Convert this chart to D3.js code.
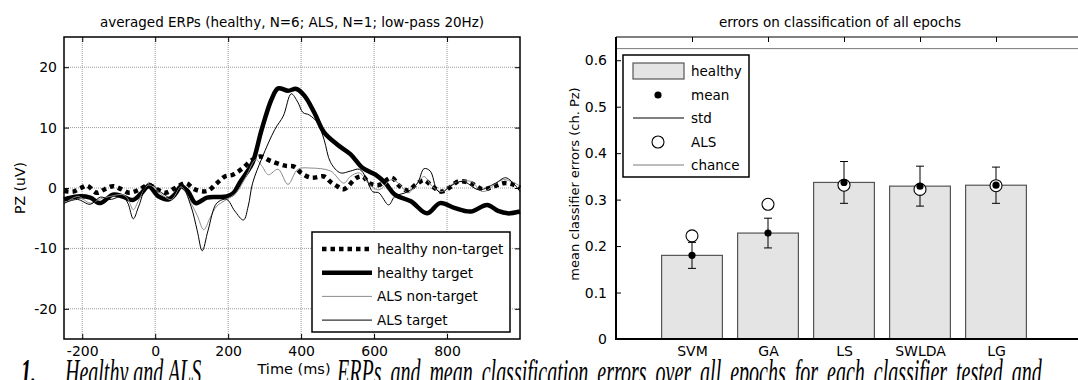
<!DOCTYPE html>
<html>
<head>
<meta charset="utf-8">
<script src="https://cdn.jsdelivr.net/npm/d3@7"></script>
<style>
	body { margin: 0; background: #fff; }
	svg { display: block; }
</style>
</head>
<body>
<svg id="fig" width="1078" height="380"></svg>
<script>
// ---- left panel: averaged ERPs at Pz (time in ms, amplitude in uV) ----
var erpTicksX = [-200, 0, 200, 400, 600, 800];
var erpTicksY = [-20, -10, 0, 10, 20];
var erpNames = ["healthy non-target", "healthy target", "ALS non-target", "ALS target"];

var hntTime = [-250, -225, -204, -187, -160, -138, -116, -93, -71, -45, -18, 5, 27, 55, 84, 107, 142, 169, 191, 213, 240, 267, 289, 316, 356, 382, 400, 427, 463, 481, 499, 517, 552, 569, 587, 613, 648, 670, 693, 715, 737, 759, 785, 810, 831, 865, 898, 930, 955, 980, 1000];
var hntVal = [-0.5, -0.6, 0, 0.4, -0.8, -0.2, 0.3, -0.2, -0.8, -0.3, 0.5, -0.2, -0.8, 0, 0.8, -0.2, -0.5, 0.8, 1.9, 2.2, 3.3, 4.7, 5.2, 4.5, 3.7, 3.5, 2.5, 1.7, 1.9, 1.0, 0.3, -0.2, 1.7, 1.9, 0.8, 0.5, 1.7, 0.3, -0.4, 0.6, 1.3, 0.3, -0.6, 0.2, 1.1, 0.8, -0.2, 0.3, 0.8, 0.6, 0];

var htTime = [-250, -213, -178, -151, -116, -89, -62, -40, -18, 9, 36, 55, 71, 90, 111, 142, 170, 196, 215, 231, 250, 267, 292, 319, 337, 364, 387, 409, 436, 463, 499, 535, 569, 604, 631, 657, 701, 745, 781, 820, 865, 910, 940, 966, 1000];
var htVal = [-1.9, -1.4, -1.6, -2.5, -1.1, -1.4, -2.0, -1.0, 0.3, -1.4, -1.9, -1.0, 0.3, -0.6, -2.5, -1.6, -1.5, -1.4, -0.8, 0.8, 2.5, 4.2, 9.7, 14.7, 16.5, 16.1, 16.4, 15.3, 12.5, 9.2, 7.2, 5.6, 3.3, 2.2, 0.8, -1.1, -2.2, -4.2, -2.5, -3.3, -3.9, -2.8, -3.8, -4.2, -3.9];

var antTime = [-250, -213, -178, -150, -124, -89, -75, -60, -45, -18, 18, 44, 71, 98, 115, 133, 150, 169, 196, 222, 249, 276, 293, 310, 337, 364, 391, 427, 481, 517, 535, 560, 587, 613, 648, 670, 693, 719, 737, 759, 785, 820, 865, 898, 955, 1000];
var antVal = [-2.7, -1.4, -2.5, -1.8, -1.4, -1.1, -1.8, -3.6, -2, 0.5, -1.1, -1.9, 0.2, -2.5, -4.5, -6.9, -5, -3, -1.9, -0.8, 1.9, 4.7, 3.6, 2.2, 3.1, 0.6, 3.1, 3.3, 2.8, 0.8, 1.9, 2.5, 0.6, -0.3, 1.4, 0.6, -0.8, 0.8, 1.9, 0.3, -0.6, 0.8, 1.1, -0.6, 1.4, 0.3];

var atTime = [-250, -213, -178, -150, -124, -89, -75, -60, -45, -18, 18, 44, 71, 98, 115, 129, 145, 169, 196, 218, 242, 255, 267, 293, 328, 351, 373, 391, 405, 422, 445, 463, 481, 508, 535, 560, 578, 596, 613, 640, 657, 693, 719, 737, 754, 772, 785, 809, 843, 888, 933, 961, 989, 1000];
var atVal = [-2.5, -1.9, -2.7, -1.5, -1.9, -1.4, -2.5, -5.1, -3, 0.8, -0.8, -1.6, 0.5, -3, -7, -10.4, -7, -2.5, -1.9, -3.8, -5.3, -3, 0.8, 5, 9.7, 11.9, 15.6, 14.2, 12.5, 12.1, 10.8, 8, 4.2, 2.5, 2.8, 3.1, 1.7, -0.6, -0.8, -2.8, -1.4, -0.6, 0.8, 3.2, 2.8, -0.3, -0.8, 0.3, 1.1, -0.3, 0.8, 1.7, 0.3, -0.6];

// ---- right panel: classification errors ----
var classifiers = ["SVM", "GA", "LS", "SWLDA", "LG"];
var meanErr = [0.180, 0.228, 0.337, 0.329, 0.331];
var stdErr = [0.028, 0.032, 0.045, 0.043, 0.039];
var alsErr = [0.222, 0.290, 0.331, 0.322, 0.330];
var chanceErr = 0.625;
var errTicksY = [0, 0.1, 0.2, 0.3, 0.4, 0.5, 0.6];
var errNames = ["healthy", "mean", "std", "ALS", "chance"];

var font = "'DejaVu Sans', Verdana, sans-serif";
var svg = d3.select("#fig");

// caption of the paper, mostly hidden below the figure
var cap = svg.append("g")
	.attr("transform", "translate(0,384) scale(1,1.8)")
	.attr("font-family", "'Liberation Serif', 'Times New Roman', serif")
	.attr("font-style", "italic")
	.attr("font-size", "20px")
	.attr("fill", "#000");
cap.append("text").attr("x", 36).attr("text-anchor", "end").attr("font-weight", "bold").text("1.");
cap.append("text").attr("x", 65).text("Healthy and ALS");
cap.append("text").attr("x", 337).attr("word-spacing", "4px")
	.text("ERPs and mean classification errors over all epochs for each classifier tested and");

function makeText(g, x, y, content, size, anchor) {
	return g.append("text")
		.attr("x", x)
		.attr("y", y)
		.attr("text-anchor", anchor || "start")
		.attr("font-family", font)
		.attr("font-size", size)
		.attr("fill", "#000")
		.text(content);
}

function styleAxis(g) {
	g.attr("font-family", font).attr("font-size", "14px");
	g.select(".domain").remove();
	g.selectAll(".tick line").attr("stroke", "#000");
	g.selectAll(".tick text").attr("fill", "#000");
}

//////////////////////////////////////////////////////////////
// left panel
var xL = d3.scaleLinear().domain([-250, 1000]).range([64, 520]);
var yL = d3.scaleLinear().domain([-25, 25]).range([339, 37]);
var left = svg.append("g");

left.append("rect")
	.attr("x", xL(-250)).attr("y", yL(25))
	.attr("width", xL(1000) - xL(-250)).attr("height", yL(-25) - yL(25))
	.attr("fill", "#fff");

left.selectAll(".gx").data(erpTicksX).enter().append("line")
	.attr("x1", function (d) { return xL(d); })
	.attr("x2", function (d) { return xL(d); })
	.attr("y1", yL(25)).attr("y2", yL(-25))
	.attr("stroke", "#9a9a9a").attr("stroke-width", 1).attr("stroke-dasharray", "1,1");
left.selectAll(".gy").data(erpTicksY).enter().append("line")
	.attr("x1", xL(-250)).attr("x2", xL(1000))
	.attr("y1", function (d) { return yL(d); })
	.attr("y2", function (d) { return yL(d); })
	.attr("stroke", "#9a9a9a").attr("stroke-width", 1).attr("stroke-dasharray", "1,1");

var labelFmt = function (d) { return String(d); };
left.append("g").attr("transform", "translate(0," + yL(-25) + ")")
	.call(d3.axisBottom(xL).tickValues(erpTicksX).tickSizeInner(-5).tickSizeOuter(0).tickPadding(7).tickFormat(labelFmt))
	.call(styleAxis);
left.append("g").attr("transform", "translate(0," + yL(25) + ")")
	.call(d3.axisTop(xL).tickValues(erpTicksX).tickSizeInner(-5).tickSizeOuter(0).tickFormat(""))
	.call(styleAxis);
left.append("g").attr("transform", "translate(" + xL(-250) + ",0)")
	.call(d3.axisLeft(yL).tickValues(erpTicksY).tickSizeInner(-5).tickSizeOuter(0).tickPadding(7).tickFormat(labelFmt))
	.call(styleAxis);
left.append("g").attr("transform", "translate(" + xL(1000) + ",0)")
	.call(d3.axisRight(yL).tickValues(erpTicksY).tickSizeInner(-5).tickSizeOuter(0).tickFormat(""))
	.call(styleAxis);

var erpSeries = [
	{ t: hntTime, v: hntVal, w: 4.5, c: "#000", dash: "4.5,4" },
	{ t: htTime, v: htVal, w: 4.5, c: "#000", dash: null },
	{ t: antTime, v: antVal, w: 1, c: "#8c8c8c", dash: null },
	{ t: atTime, v: atVal, w: 1, c: "#000", dash: null }
];

var erpLine = d3.line()
	.x(function (d) { return xL(d[0]); })
	.y(function (d) { return yL(d[1]); })
	.curve(d3.curveCatmullRom.alpha(0.5));

erpSeries.forEach(function (s) {
	left.append("path")
		.datum(d3.zip(s.t, s.v))
		.attr("d", erpLine)
		.attr("fill", "none")
		.attr("stroke", s.c)
		.attr("stroke-width", s.w)
		.attr("stroke-linejoin", "round")
		.attr("stroke-dasharray", s.dash);
});

left.append("rect")
	.attr("x", xL(-250)).attr("y", yL(25))
	.attr("width", xL(1000) - xL(-250)).attr("height", yL(-25) - yL(25))
	.attr("fill", "none").attr("stroke", "#000").attr("stroke-width", 1.5);

// legend
var legL = left.append("g").attr("transform", "translate(312,232)");
legL.append("rect").attr("width", 198).attr("height", 100)
	.attr("fill", "#fff").attr("stroke", "#000").attr("stroke-width", 1.5);
erpSeries.forEach(function (s, i) {
	var ly = 17 + i * 23.7;
	legL.append("line")
		.attr("x1", 10).attr("x2", 60).attr("y1", ly).attr("y2", ly)
		.attr("stroke", s.c).attr("stroke-width", s.w).attr("stroke-dasharray", s.dash);
	makeText(legL, 65, ly + 5, erpNames[i], "13.5px");
});

makeText(left, (xL(-250) + xL(1000)) / 2, 27, "averaged ERPs (healthy, N=6; ALS, N=1; low-pass 20Hz)", "13.5px", "middle");
makeText(left, 0, 0, "PZ (uV)", "14px", "middle")
	.attr("transform", "translate(25," + yL(0) + ") rotate(-90)");
left.append("rect").attr("x", 254).attr("y", 360).attr("width", 80).attr("height", 16).attr("fill", "#fff");
makeText(left, 294, 374, "Time (ms)", "14.5px", "middle");

//////////////////////////////////////////////////////////////
// right panel
var xR = d3.scaleLinear().domain([0, 6]).range([616, 1072]);
var yR = d3.scaleLinear().domain([0, 0.65]).range([339, 37]);
var right = svg.append("g");

right.selectAll(".bar").data(meanErr).enter().append("rect")
	.attr("x", function (d, i) { return xR(i + 1 - 0.4); })
	.attr("y", function (d) { return yR(d); })
	.attr("width", xR(0.8) - xR(0))
	.attr("height", function (d) { return yR(0) - yR(d); })
	.attr("fill", "#e4e4e4")
	.attr("stroke", "#555")
	.attr("stroke-width", 1.2);

// std bars
right.selectAll(".err").data(meanErr).enter().append("line")
	.attr("x1", function (d, i) { return xR(i + 1); })
	.attr("x2", function (d, i) { return xR(i + 1); })
	.attr("y1", function (d, i) { return yR(d - stdErr[i]); })
	.attr("y2", function (d, i) { return yR(d + stdErr[i]); })
	.attr("stroke", "#000").attr("stroke-width", 1);
[-1, 1].forEach(function (sgn) {
	right.selectAll(".cap").data(meanErr).enter().append("line")
		.attr("x1", function (d, i) { return xR(i + 1) - 4; })
		.attr("x2", function (d, i) { return xR(i + 1) + 4; })
		.attr("y1", function (d, i) { return yR(d + sgn * stdErr[i]); })
		.attr("y2", function (d, i) { return yR(d + sgn * stdErr[i]); })
		.attr("stroke", "#000").attr("stroke-width", 1);
});

right.selectAll(".als").data(alsErr).enter().append("circle")
	.attr("cx", function (d, i) { return xR(i + 1); })
	.attr("cy", function (d) { return yR(d); })
	.attr("r", 6)
	.attr("fill", "#fff")
	.attr("stroke", "#000")
	.attr("stroke-width", 1.1);
right.selectAll(".mean").data(meanErr).enter().append("circle")
	.attr("cx", function (d, i) { return xR(i + 1); })
	.attr("cy", function (d) { return yR(d); })
	.attr("r", 3.6)
	.attr("fill", "#000");

// chance level and frame
right.append("line")
	.attr("x1", xR(0)).attr("x2", 1078)
	.attr("y1", yR(chanceErr)).attr("y2", yR(chanceErr))
	.attr("stroke", "#7a7a7a").attr("stroke-width", 1);
right.append("line")
	.attr("x1", xR(0)).attr("x2", 1078)
	.attr("y1", yR(0.65)).attr("y2", yR(0.65))
	.attr("stroke", "#000").attr("stroke-width", 1.2);

right.append("g").attr("transform", "translate(" + xR(0) + ",0)")
	.call(d3.axisLeft(yR).tickValues(errTicksY).tickSizeInner(-5).tickSizeOuter(0).tickPadding(9)
		.tickFormat(function (d) { return d === 0 ? "0" : d3.format(".1f")(d); }))
	.call(styleAxis);
right.append("g").attr("transform", "translate(0," + yR(0) + ")")
	.call(d3.axisBottom(xR).tickValues([1, 2, 3, 4, 5]).tickSizeInner(0).tickSizeOuter(0).tickPadding(7)
		.tickFormat(function (d) { return classifiers[d - 1]; }))
	.call(styleAxis);
right.append("g").attr("transform", "translate(0," + yR(0.65) + ")")
	.call(d3.axisTop(xR).tickValues([1, 2, 3, 4, 5]).tickSizeInner(-5).tickSizeOuter(0).tickFormat(""))
	.call(styleAxis);

right.append("line")
	.attr("x1", xR(0)).attr("x2", xR(0)).attr("y1", yR(0.65)).attr("y2", yR(0) + 1)
	.attr("stroke", "#000").attr("stroke-width", 2);
right.append("line")
	.attr("x1", xR(0)).attr("x2", 1078).attr("y1", yR(0)).attr("y2", yR(0))
	.attr("stroke", "#000").attr("stroke-width", 2);

// legend
var legR = right.append("g").attr("transform", "translate(623,55)");
legR.append("rect").attr("width", 126).attr("height", 122)
	.attr("fill", "#fff").attr("stroke", "#000").attr("stroke-width", 1.5);
var rowY = [16, 40, 63, 87, 110];
legR.append("rect").attr("x", 10).attr("y", rowY[0] - 8).attr("width", 51).attr("height", 16)
	.attr("fill", "#e4e4e4").attr("stroke", "#555").attr("stroke-width", 1.2);
legR.append("circle").attr("cx", 35).attr("cy", rowY[1]).attr("r", 3.6).attr("fill", "#000");
legR.append("line").attr("x1", 10).attr("x2", 61).attr("y1", rowY[2]).attr("y2", rowY[2])
	.attr("stroke", "#000").attr("stroke-width", 1);
legR.append("circle").attr("cx", 35).attr("cy", rowY[3]).attr("r", 6)
	.attr("fill", "#fff").attr("stroke", "#000").attr("stroke-width", 1.1);
legR.append("line").attr("x1", 10).attr("x2", 61).attr("y1", rowY[4]).attr("y2", rowY[4])
	.attr("stroke", "#7a7a7a").attr("stroke-width", 1);
errNames.forEach(function (name, i) {
	makeText(legR, 68, rowY[i] + 5, name, "13.5px");
});

makeText(right, 840, 27, "errors on classification of all epochs", "13.5px", "middle");
makeText(right, 0, 0, "mean classifier errors (ch. Pz)", "13px", "middle")
	.attr("transform", "translate(579,184) rotate(-90)");
</script>
</body>
</html>
